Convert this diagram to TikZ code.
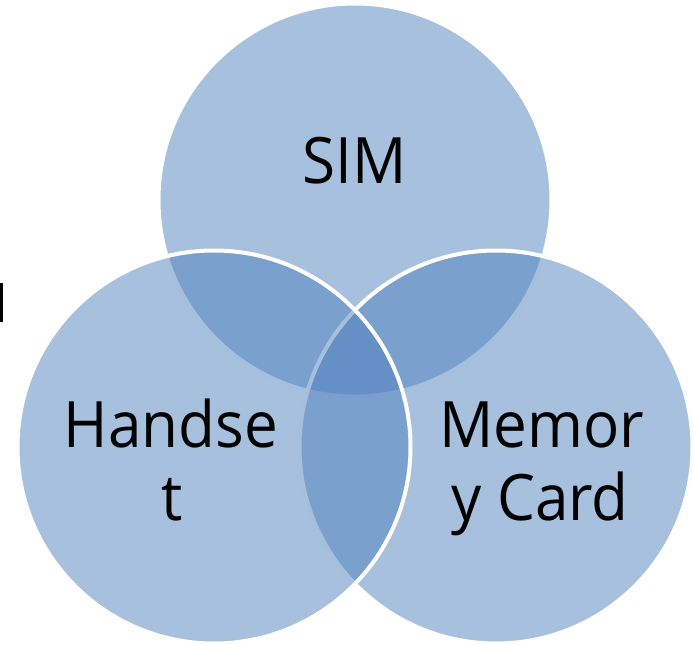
\documentclass[tikz,border=0pt]{standalone}
\usepackage{fontspec}
\setmainfont{Open Sans}
\definecolor{venn}{HTML}{4F81BD}
\newcommand{\narrowtext}[1]{\scalebox{0.94}[1]{#1}}
\tikzset{
  vcircle/.style={circle, fill=venn, fill opacity=0.5, draw=white, line width=4pt, minimum size=393pt, inner sep=0pt},
  vlabel/.style={anchor=base, inner sep=0pt, text=black, font=\fontsize{64}{73}\selectfont}
}
\begin{document}
\begin{tikzpicture}[x=1pt,y=-1pt]
\useasboundingbox (0,0) rectangle (694,645);
\node[vcircle] (sim) at (355,200) {};
\node[vcircle] (mem) at (496,447) {};
\node[vcircle] (hand) at (214,447) {};
\fill[black] (0,283) rectangle (2.5,322);
\node[vlabel] (simt) at (355,183) {\narrowtext{SIM}};
\node[vlabel] (hand1) at (171,447) {\narrowtext{Handse}};
\node[vlabel] (hand2) at (172,520) {\narrowtext{t}};
\node[vlabel] (mem1) at (542,447) {\narrowtext{Memor}};
\node[vlabel] (mem2) at (540,520) {\narrowtext{y Card}};
\end{tikzpicture}
\end{document}
